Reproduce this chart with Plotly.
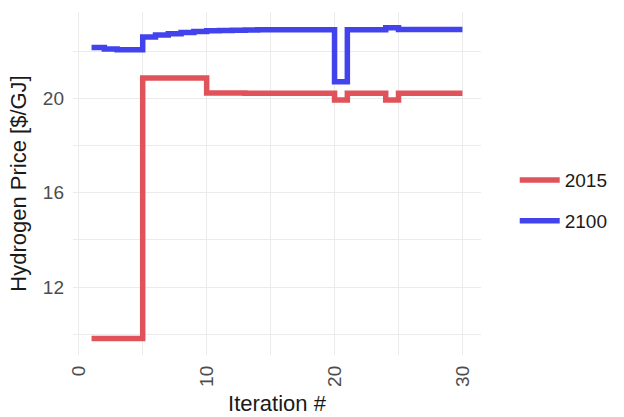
import plotly.graph_objects as go

iterations = list(range(1, 31))
price_2015 = [9.82, 9.82, 9.82, 9.82, 20.86, 20.86, 20.86, 20.86, 20.86, 20.23,
              20.23, 20.23, 20.22, 20.22, 20.22, 20.22, 20.22, 20.22, 20.22, 19.93,
              20.22, 20.22, 20.22, 19.93, 20.22, 20.22, 20.22, 20.22, 20.22, 20.22]
price_2100 = [22.16, 22.09, 22.06, 22.06, 22.60, 22.68, 22.74, 22.79, 22.83, 22.86,
              22.88, 22.89, 22.90, 22.91, 22.91, 22.91, 22.91, 22.91, 22.91, 20.70,
              22.91, 22.91, 22.91, 22.99, 22.92, 22.92, 22.92, 22.92, 22.92, 22.92]
series_names = ["2015", "2100"]
series_colors = ["#E1535B", "#4343EE"]

FONT = "Liberation Sans, Arial, sans-serif"

fig = go.Figure()
for name, vals, col in zip(series_names, [price_2015, price_2100], series_colors):
    fig.add_trace(go.Scatter(
        x=iterations, y=vals, name=name, mode="lines",
        line=dict(color=col, width=5.5, shape="hv"),
        legendgroup=name,
    ))

grid_major = "#EBEBEB"
fig.update_layout(
    width=624, height=417,
    margin=dict(l=73, r=142, t=12, b=62),
    paper_bgcolor="white", plot_bgcolor="white",
    font=dict(family=FONT, size=19, color="#1A1A1A"),
    showlegend=True,
    legend=dict(
        x=1.08, xanchor="left", y=0.45, yanchor="middle",
        font=dict(size=19, color="#1A1A1A"),
        itemwidth=40, tracegroupgap=13,
        bgcolor="rgba(0,0,0,0)",
    ),
    xaxis=dict(
        range=[-0.45, 31.45], tick0=0, dtick=10, tickangle=-90,
        showgrid=True, gridcolor=grid_major, gridwidth=1.3,
        zeroline=False, showline=False, ticks="", automargin=False,
        ticklabelstandoff=6,
        tickfont=dict(size=19, color="#4D4D4D"),
        minor=dict(dtick=5, tick0=0, showgrid=True, gridcolor=grid_major, gridwidth=0.7),
        title=dict(text="Iteration #", font=dict(size=22, color="#1A1A1A"), standoff=9),
    ),
    yaxis=dict(
        range=[9.12, 23.66], tick0=0, dtick=4, tickvals=[12, 16, 20],
        showgrid=True, gridcolor=grid_major, gridwidth=1.3,
        zeroline=False, showline=False, ticks="", automargin=False,
        ticklabelstandoff=8,
        tickfont=dict(size=19, color="#4D4D4D"),
        minor=dict(tickvals=[10, 14, 18, 22], showgrid=True, gridcolor=grid_major, gridwidth=0.7),
        title=dict(text="Hydrogen Price [$/GJ]", font=dict(size=22, color="#1A1A1A"), standoff=10),
    ),
)

fig.write_html("out.html", config={"displayModeBar": False},
               post_script="document.body.style.margin='0';")
